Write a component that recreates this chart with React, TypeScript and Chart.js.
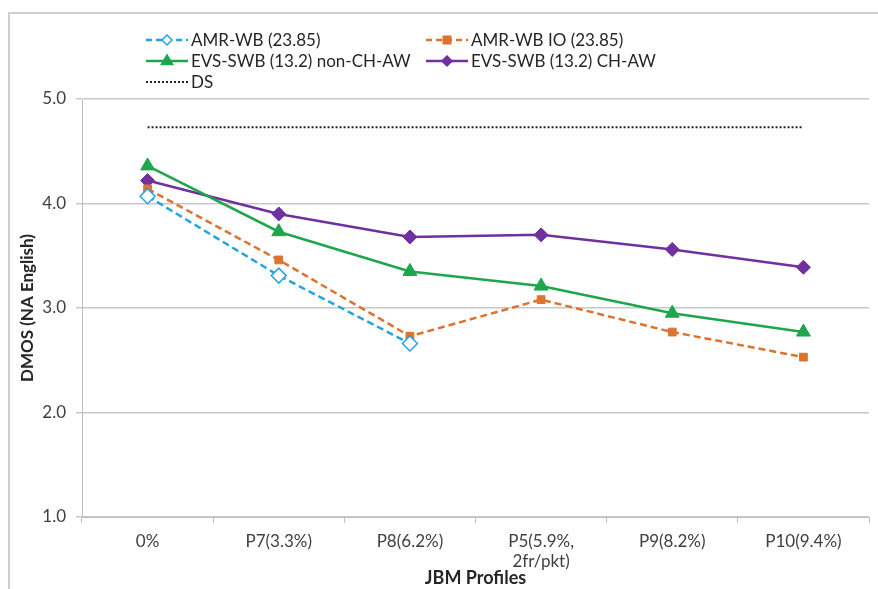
import React, { useEffect, useRef } from "react";
import { Chart, registerables } from "chart.js";

Chart.register(...registerables);

const categories: (string | string[])[] = [
  "0%",
  "P7(3.3%)",
  "P8(6.2%)",
  ["P5(5.9%,", "2fr/pkt)"],
  "P9(8.2%)",
  "P10(9.4%)",
];

const amrWb: (number | null)[] = [4.07, 3.31, 2.66, null, null, null];
const amrWbIo: number[] = [4.14, 3.46, 2.73, 3.08, 2.77, 2.53];
const evsNonChAw: number[] = [4.36, 3.73, 3.35, 3.21, 2.95, 2.77];
const evsChAw: number[] = [4.22, 3.9, 3.68, 3.7, 3.56, 3.39];
const ds: number[] = [4.73, 4.73, 4.73, 4.73, 4.73, 4.73];

const yTicks: number[] = [1, 2, 3, 4, 5];

const seriesNames = [
  "AMR-WB (23.85)",
  "AMR-WB IO (23.85)",
  "EVS-SWB (13.2) non-CH-AW",
  "EVS-SWB (13.2) CH-AW",
  "DS",
];

const BLUE = "#27a3dd";
const ORANGE = "#dd7330";
const GREEN = "#1da64b";
const PURPLE = "#7030a0";
const DSCOL = "#222222";

const FONT = "Lato, 'Open Sans', sans-serif";

function drawMarker(ctx: CanvasRenderingContext2D, style: string, x: number, y: number, r: number, fill: string, stroke: string) {
  ctx.save();
  ctx.setLineDash([]);
  ctx.beginPath();
  if (style === "rectRot") {
    ctx.moveTo(x, y - r);
    ctx.lineTo(x + r, y);
    ctx.lineTo(x, y + r);
    ctx.lineTo(x - r, y);
    ctx.closePath();
  } else if (style === "rect") {
    ctx.rect(x - r * 0.75, y - r * 0.75, r * 1.5, r * 1.5);
  } else if (style === "triangle") {
    ctx.moveTo(x, y - r);
    ctx.lineTo(x + r * 0.95, y + r * 0.6);
    ctx.lineTo(x - r * 0.95, y + r * 0.6);
    ctx.closePath();
  }
  ctx.fillStyle = fill;
  ctx.fill();
  ctx.lineWidth = 1.5;
  ctx.strokeStyle = stroke;
  ctx.stroke();
  ctx.restore();
}

const legendItems = [
  { col: 0, row: 0, color: BLUE, dash: [6, 4], marker: "rectRot", fill: "#ffffff" },
  { col: 1, row: 0, color: ORANGE, dash: [6, 4], marker: "rect", fill: ORANGE },
  { col: 0, row: 1, color: GREEN, dash: [], marker: "triangle", fill: GREEN },
  { col: 1, row: 1, color: PURPLE, dash: [], marker: "rectRot", fill: PURPLE },
  { col: 0, row: 2, color: DSCOL, dash: [2, 2], marker: "", fill: "" },
];

const framePlugin = {
  id: "frameAndLegend",
  beforeDraw(chart: any) {
    const ctx = chart.ctx as CanvasRenderingContext2D;
    ctx.save();
    ctx.fillStyle = "#ffffff";
    ctx.fillRect(0, 0, chart.width, chart.height);
    ctx.strokeStyle = "#cfcfcf";
    ctx.lineWidth = 2;
    ctx.strokeRect(9, 13, chart.width + 20, chart.height + 20);
    ctx.restore();
  },
  afterDraw(chart: any) {
    const ctx = chart.ctx as CanvasRenderingContext2D;
    const colX = [146, 426];
    const rowY = [40, 61, 82];
    ctx.save();
    legendItems.forEach((it, i) => {
      const x0 = colX[it.col];
      const y = rowY[it.row];
      const x1 = x0 + 42;
      ctx.beginPath();
      ctx.setLineDash(it.dash);
      ctx.strokeStyle = it.color;
      ctx.lineWidth = it.marker ? 2.5 : 2;
      ctx.moveTo(x0, y);
      ctx.lineTo(x1, y);
      ctx.stroke();
      ctx.setLineDash([]);
      if (it.marker) {
        const r = it.marker === "triangle" ? 6 : 5;
        drawMarker(ctx, it.marker, (x0 + x1) / 2, y, r, it.fill, it.color);
      }
      ctx.fillStyle = "#262626";
      ctx.font = `17px ${FONT}`;
      ctx.textBaseline = "middle";
      ctx.textAlign = "left";
      ctx.fillText(seriesNames[i], x1 + 3, y + 1);
    });
    ctx.restore();
  },
};

export default function App() {
  const canvasRef = useRef<HTMLCanvasElement | null>(null);

  useEffect(() => {
    if (!canvasRef.current) return;
    const chart = new Chart(canvasRef.current, {
      type: "line",
      data: {
        labels: categories as any,
        datasets: [
          {
            label: seriesNames[0],
            data: amrWb,
            borderColor: BLUE,
            backgroundColor: "#ffffff",
            borderDash: [7, 4],
            borderWidth: 2.5,
            pointStyle: "rectRot",
            pointRadius: 7.5,
            pointBorderWidth: 1.5,
            pointBorderColor: BLUE,
            pointBackgroundColor: "#ffffff",
            spanGaps: false,
            order: 1,
          },
          {
            label: seriesNames[1],
            data: amrWbIo,
            borderColor: ORANGE,
            backgroundColor: ORANGE,
            borderDash: [7, 4],
            borderWidth: 2.5,
            pointStyle: "rect",
            pointRadius: 5.5,
            pointBorderWidth: 1,
            pointBackgroundColor: ORANGE,
            pointBorderColor: ORANGE,
            order: 2,
          },
          {
            label: seriesNames[2],
            data: evsNonChAw,
            borderColor: GREEN,
            backgroundColor: GREEN,
            borderWidth: 2.5,
            pointStyle: "triangle",
            pointRadius: 8,
            pointBorderWidth: 1,
            pointBackgroundColor: GREEN,
            pointBorderColor: GREEN,
            order: 3,
          },
          {
            label: seriesNames[3],
            data: evsChAw,
            borderColor: PURPLE,
            backgroundColor: PURPLE,
            borderWidth: 2.5,
            pointStyle: "rectRot",
            pointRadius: 7,
            pointBorderWidth: 1,
            pointBackgroundColor: PURPLE,
            pointBorderColor: PURPLE,
            order: 4,
          },
          {
            label: seriesNames[4],
            data: ds,
            borderColor: DSCOL,
            borderDash: [2, 2],
            borderWidth: 2,
            pointRadius: 0,
            order: 5,
          },
        ],
      },
      options: {
        animation: false,
        responsive: false,
        maintainAspectRatio: false,
        layout: { padding: { top: 99, right: 7, bottom: 0, left: 0 } },
        plugins: {
          legend: { display: false },
          tooltip: { enabled: false },
        },
        scales: {
          x: {
            type: "category",
            offset: true,
            grid: {
              offset: true,
              drawOnChartArea: false,
              drawTicks: true,
              tickLength: 6,
              color: "#bfbfbf",
              lineWidth: 1,
            },
            border: { display: true, color: "#bfbfbf", width: 1 },
            ticks: {
              color: "#404040",
              font: { family: FONT, size: 17 },
              padding: 8,
              maxRotation: 0,
              autoSkip: false,
            },
            title: {
              display: true,
              text: "JBM Profiles",
              color: "#262626",
              font: { family: FONT, size: 18, weight: "bold" },
              padding: { top: 0, bottom: 0 },
            },
            afterFit(scale: any) {
              scale.height = 72;
            },
          },
          y: {
            type: "linear",
            min: 1,
            max: 5,
            afterBuildTicks(scale: any) {
              scale.ticks = yTicks.map((v) => ({ value: v }));
            },
            grid: {
              color: "#c8c8c8",
              lineWidth: 1.5,
              drawTicks: true,
              tickLength: 6,
            },
            border: { display: true, color: "#bfbfbf", width: 1 },
            ticks: {
              color: "#404040",
              font: { family: FONT, size: 17 },
              padding: 10,
              callback: (v: any) => Number(v).toFixed(1),
            },
            title: {
              display: true,
              text: "DMOS (NA English)",
              color: "#262626",
              font: { family: FONT, size: 17, weight: "bold" },
              padding: { top: 17, bottom: 0 },
            },
            afterFit(scale: any) {
              scale.width = 82;
            },
          },
        },
      },
      plugins: [framePlugin],
    });
    return () => chart.destroy();
  }, []);

  return (
    <div style={{ position: "fixed", left: 0, top: 0, width: 878, height: 589, background: "#fff" }}>
      <canvas ref={canvasRef} width={878} height={589} style={{ display: "block", width: 878, height: 589 }} />
    </div>
  );
}
